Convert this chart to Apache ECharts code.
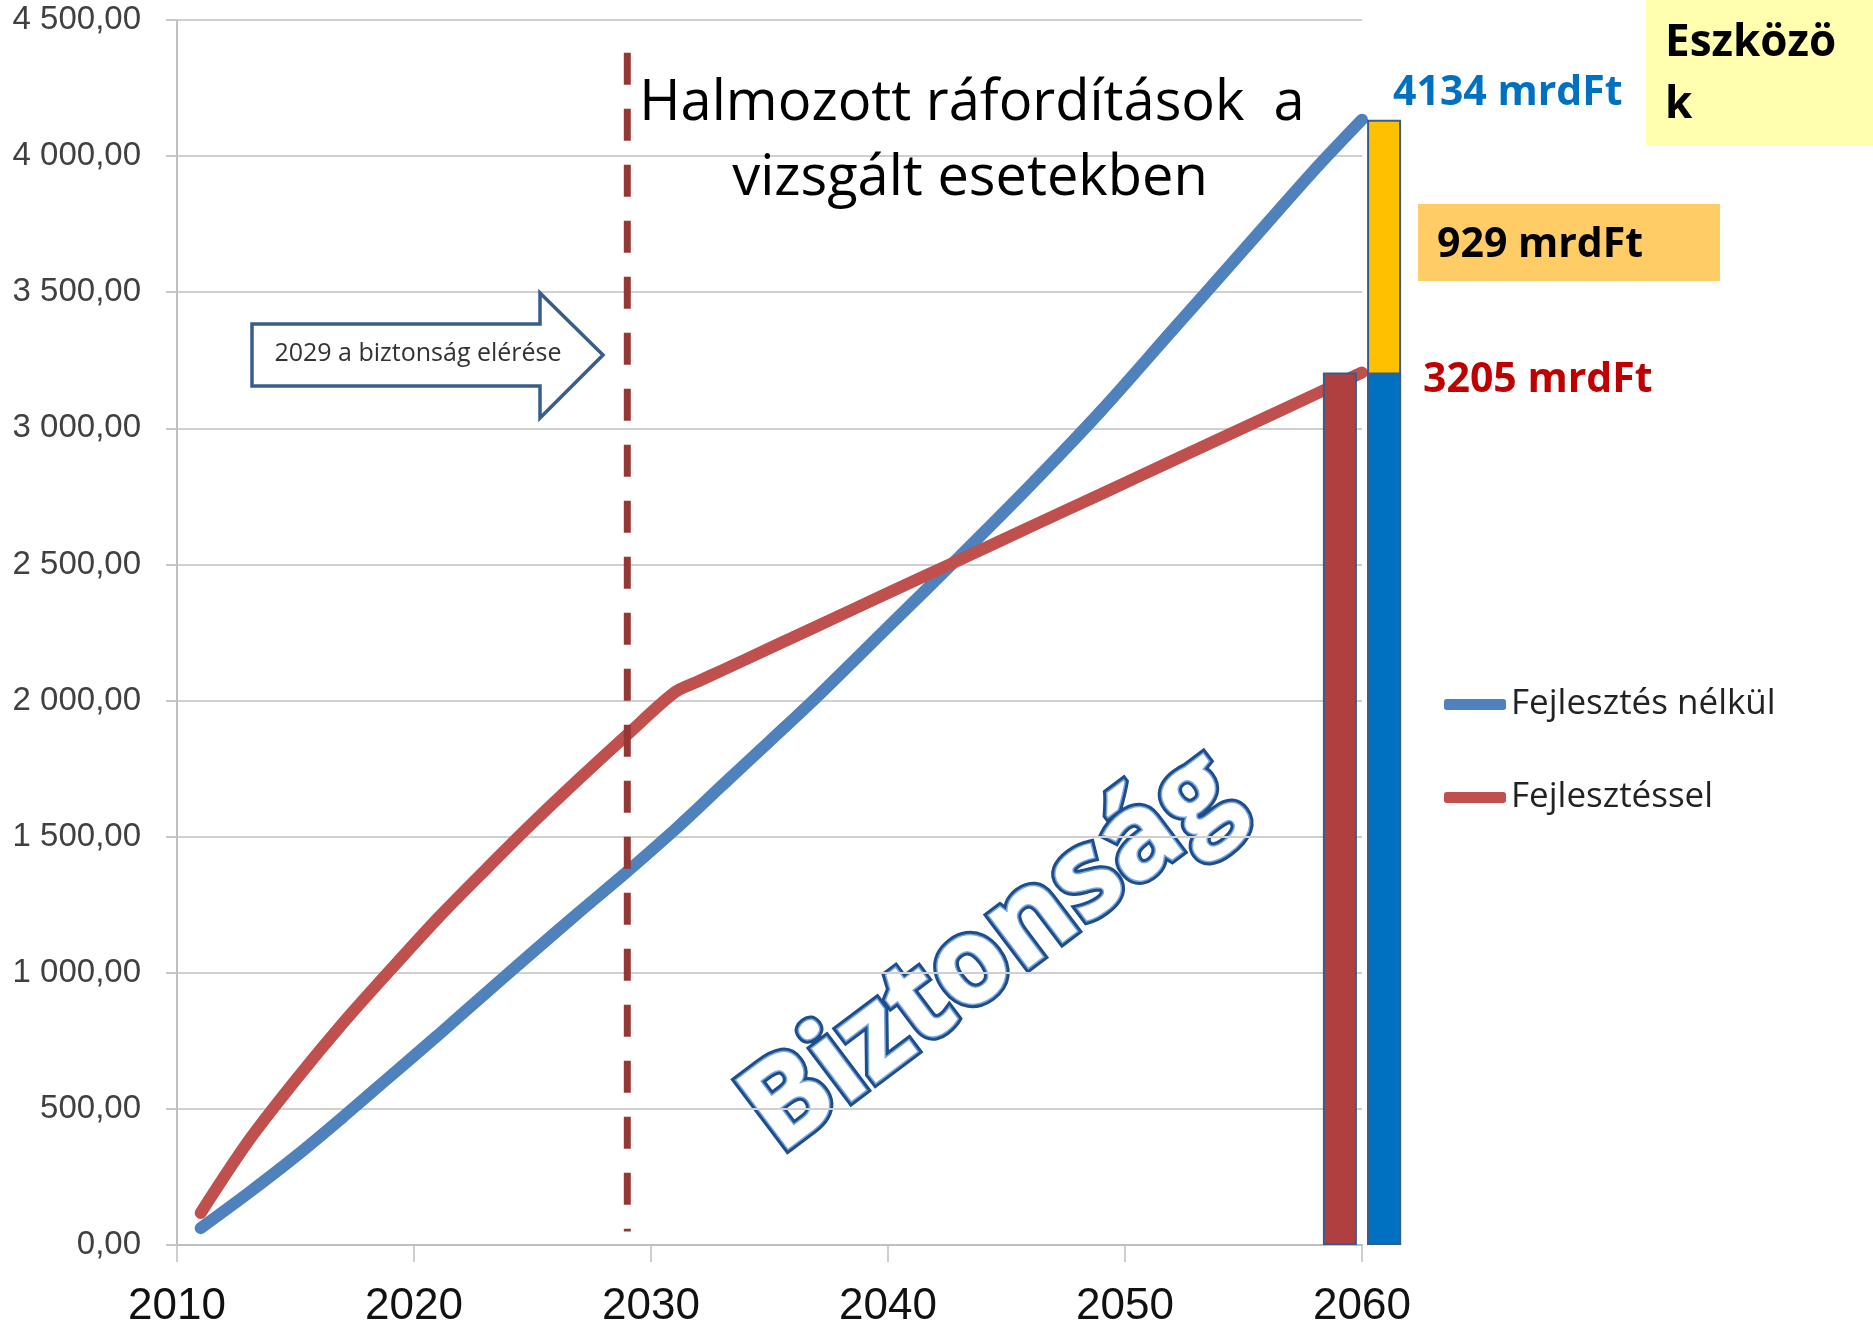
<!DOCTYPE html>
<html>
<head>
<meta charset="utf-8">
<style>
html, body { margin: 0; padding: 0; background: #fff; }
#main { width: 1873px; height: 1330px; }
</style>
<script src="https://cdn.jsdelivr.net/npm/echarts@6/dist/echarts.min.js"></script>
</head>
<body>
<div id="main"></div>
<script>
// adatok
var years = [2011, 2013, 2015, 2017, 2019, 2021, 2023, 2025, 2027, 2029, 2031, 2032, 2033, 2035, 2037, 2040, 2043, 2046, 2049, 2052, 2055, 2058, 2060];
var nelkul = [62, 190, 325, 470, 620, 770, 923, 1075, 1225, 1372, 1525, 1606, 1688, 1850, 2013, 2270, 2527, 2790, 3065, 3360, 3655, 3950, 4134];
var fejlesztessel = [118, 380, 605, 815, 1010, 1200, 1377, 1550, 1715, 1875, 2030, 2071, 2111, 2192, 2273, 2395, 2516, 2638, 2759, 2881, 3002, 3124, 3205];
var seriesNames = ['Fejlesztés nélkül', 'Fejlesztéssel'];

// 2029 - szaggatott vonal
var markYear = [2029, 2029];
var markValues = [4380, 50];

// oszlopok 2060-nál
var barYear = 2060;
var redBar = [3205];
var blueBar = [3205];
var yellowBar = [929];

function pairs(xs, ys) {
    return xs.map(function (x, i) { return [x, ys[i]]; });
}

function huFormat(v) {
    return v.toFixed(2).replace('.', ',').replace(/\B(?=(\d{3})+(?!\d))/g, ' ');
}

var chart = echarts.init(document.getElementById('main'));

var barBorder = { borderColor: '#385d8a', borderWidth: 2 };

var option = {
    backgroundColor: '#fff',
    animation: false,
    grid: { left: 177, right: 511, top: 20, bottom: 85, outerBoundsMode: 'none' },
    legend: {
        data: seriesNames,
        orient: 'vertical',
        left: 1439,
        top: 682,
        icon: 'roundRect',
        itemWidth: 62,
        itemHeight: 11,
        itemGap: 58,
        textStyle: { fontFamily: 'Open Sans', fontSize: 35, color: '#222' }
    },
    xAxis: {
        type: 'value',
        min: 2010,
        max: 2060,
        interval: 10,
        splitLine: { show: false },
        axisLine: { lineStyle: { color: '#bfbfbf', width: 2 } },
        axisTick: { show: true, length: 17, lineStyle: { color: '#bfbfbf', width: 1.5 } },
        axisLabel: {
            margin: 40,
            fontFamily: 'Liberation Sans',
            fontSize: 44,
            color: '#111',
            formatter: function (v) { return String(v); }
        }
    },
    yAxis: {
        type: 'value',
        min: 0,
        max: 4500,
        interval: 500,
        axisLine: { show: true, lineStyle: { color: '#bfbfbf', width: 2 } },
        axisTick: { show: true, length: 11, lineStyle: { color: '#c8c8c8', width: 2 } },
        splitLine: { lineStyle: { color: '#d0d0d0', width: 2 } },
        axisLabel: {
            margin: 36,
            fontFamily: 'Liberation Sans',
            fontSize: 33,
            color: '#404040',
            formatter: huFormat
        }
    },
    series: [
        {
            name: seriesNames[0],
            type: 'line',
            data: pairs(years, nelkul),
            color: '#4f81bd',
            showSymbol: false,
            smooth: 0.3,
            lineStyle: { width: 12, color: '#4f81bd', cap: 'round' },
            z: 3
        },
        {
            name: seriesNames[1],
            type: 'line',
            data: pairs(years, fejlesztessel),
            color: '#c0504d',
            showSymbol: false,
            smooth: 0.3,
            lineStyle: { width: 12, color: '#c0504d', cap: 'round' },
            z: 3
        },
        {
            name: 'marker',
            type: 'line',
            data: pairs(markYear, markValues),
            showSymbol: false,
            lineStyle: { width: 7, color: '#953735', type: [32, 24] },
            z: 4
        },
        {
            name: 'red bar',
            type: 'bar',
            data: redBar.map(function (v) { return [barYear, v]; }),
            barWidth: 34,
            barGap: '30%',
            clip: false,
            itemStyle: Object.assign({ color: '#b04040' }, barBorder),
            z: 5
        },
        {
            // a sárga rész a kék oszlop tetején (3205 + 929)
            name: 'yellow bar',
            type: 'bar',
            stack: 'b',
            data: yellowBar.map(function (v, i) { return [barYear, blueBar[i] + v]; }),
            barWidth: 34,
            clip: false,
            itemStyle: Object.assign({ color: '#ffc000' }, barBorder),
            z: 5
        },
        {
            name: 'blue bar',
            type: 'bar',
            stack: 'b',
            data: blueBar.map(function (v) { return [barYear, v]; }),
            barWidth: 34,
            clip: false,
            itemStyle: Object.assign({ color: '#0070c0' }, barBorder),
            z: 6
        }
    ],
    graphic: [
        // cím
        {
            type: 'text', x: 972, y: 104, z: 10,
            style: { text: 'Halmozott ráfordítások  a', font: '56px "Open Sans"', fill: '#000', align: 'center', verticalAlign: 'middle', textAlign: 'center', textVerticalAlign: 'middle' }
        },
        {
            type: 'text', x: 970, y: 179, z: 10,
            style: { text: 'vizsgált esetekben', font: '56px "Open Sans"', fill: '#000', align: 'center', verticalAlign: 'middle', textAlign: 'center', textVerticalAlign: 'middle' }
        },
        // Eszközök doboz
        {
            type: 'rect', z: 8,
            shape: { x: 1646, y: 0, width: 227, height: 145 },
            style: { fill: '#ffffaf' }
        },
        {
            type: 'text', x: 1665, y: 43, z: 10,
            style: { text: 'Eszközö', font: 'bold 44px "Open Sans"', fill: '#000', verticalAlign: 'middle', textVerticalAlign: 'middle' }
        },
        {
            type: 'text', x: 1665, y: 105, z: 10,
            style: { text: 'k', font: 'bold 44px "Open Sans"', fill: '#000', verticalAlign: 'middle', textVerticalAlign: 'middle' }
        },
        // 929 doboz
        {
            type: 'rect', z: 8,
            shape: { x: 1418, y: 204, width: 302, height: 77 },
            style: { fill: '#ffcc66' }
        },
        {
            type: 'text', x: 1437, y: 245, z: 10,
            style: { text: '929 mrdFt', font: 'bold 41px "Open Sans"', fill: '#000', verticalAlign: 'middle', textVerticalAlign: 'middle' }
        },
        {
            type: 'text', x: 1393, y: 93, z: 10,
            style: { text: '4134 mrdFt', font: 'bold 41px "Open Sans"', fill: '#0070c0', verticalAlign: 'middle', textVerticalAlign: 'middle' }
        },
        {
            type: 'text', x: 1423, y: 380, z: 10,
            style: { text: '3205 mrdFt', font: 'bold 41px "Open Sans"', fill: '#c00000', verticalAlign: 'middle', textVerticalAlign: 'middle' }
        },
        // nyíl
        {
            type: 'polygon', z: 9,
            shape: { points: [[252, 324], [540, 324], [540, 293], [603, 355], [540, 418], [540, 386], [252, 386]] },
            style: { fill: '#fff', stroke: '#385d8a', lineWidth: 3.5 }
        },
        {
            type: 'text', x: 418, y: 354, z: 10,
            style: { text: '2029 a biztonság elérése', font: '25px "Open Sans"', fill: '#333', align: 'center', verticalAlign: 'middle', textAlign: 'center', textVerticalAlign: 'middle' }
        },
        // Biztonság felirat
        {
            type: 'group', x: 991, y: 953, rotation: 37 * Math.PI / 180, z: 7,
            children: [
                {
                    type: 'text', x: 0, y: 0,
                    style: { text: 'Biztonság', font: 'bold 120px "Open Sans"', fill: '#1e4d8c', stroke: '#1e4d8c', lineWidth: 9, align: 'center', verticalAlign: 'middle', textAlign: 'center', textVerticalAlign: 'middle', shadowBlur: 8, shadowColor: 'rgba(0,0,0,0.3)', shadowOffsetX: 3, shadowOffsetY: 3 }
                },
                {
                    type: 'text', x: 0, y: 0,
                    style: { text: 'Biztonság', font: 'bold 120px "Open Sans"', fill: '#ffffff', stroke: '#7aa7e0', lineWidth: 3, align: 'center', verticalAlign: 'middle', textAlign: 'center', textVerticalAlign: 'middle' }
                }
            ]
        }
    ]
};

chart.setOption(option);
</script>
</body>
</html>
